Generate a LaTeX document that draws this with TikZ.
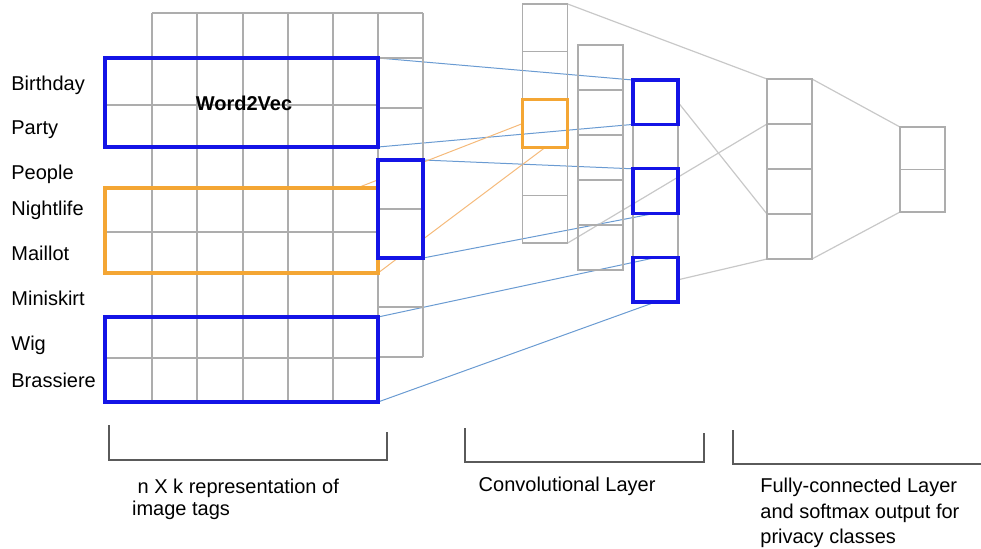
\documentclass[tikz,border=0pt]{standalone}
\usepackage{fontspec}
\setmainfont{Liberation Sans}
\usetikzlibrary{positioning,calc,backgrounds}

\definecolor{gridgray}{HTML}{ADADAD}
\definecolor{linkgray}{HTML}{C8C8C8}
\definecolor{tagblue}{HTML}{1414E6}
\definecolor{tagorange}{HTML}{F4A634}
\definecolor{thinblue}{HTML}{6A9BD2}
\definecolor{thinorange}{HTML}{F5BA7A}
\definecolor{bracketgray}{HTML}{5A5A5A}

\begin{document}
\begin{tikzpicture}[x=0.5pt,y=-0.5pt,font=\fontsize{10}{12}\selectfont,
    gridline/.style={draw=gridgray,line width=0.6pt},
    cell/.style={draw=gridgray,line width=0.6pt,minimum width=22.5pt,
      minimum height=#1,inner sep=0pt,outer sep=0pt},
    tagwindow/.style={draw=#1,line width=1.6pt,inner sep=0pt,outer sep=0pt},
    tagtext/.style={anchor=base west,inner sep=0pt},
    bluelink/.style={draw=thinblue,line width=0.5pt},
    orangelink/.style={draw=thinorange,line width=0.5pt},
    greylink/.style={draw=linkgray,line width=0.6pt},
    bracket/.style={draw=bracketgray,line width=0.65pt}]
    \useasboundingbox (0,0) rectangle (981,548);

    % n x k matrix of tag vectors
    \foreach \x in {152,197,243,288,333,378}
        \draw[gridline] (\x,13) -- (\x,402);
    \draw[gridline] (423,13) -- (423,357);
    \draw[gridline] (152,13) -- (423,13);
    \foreach \y in {58,105,147,188,232,273,317,358,402}
        \draw[gridline] (105,\y) -- (378,\y);
    \foreach \y in {58,108,160,207,258,307,357}
        \draw[gridline] (378,\y) -- (423,\y);

    \foreach \tag/\y [count=\i] in {Birthday/90,Party/134,People/179,Nightlife/215,
        Maillot/260,Miniskirt/305,Wig/350,Brassiere/387}
        \node[tagtext] (tag\i) at (11,\y) {\tag};

    \node[tagwindow=tagblue,minimum width=136.5pt,minimum height=44.5pt] (rowsA) at (241.5,102.5) {};
    \node[tagwindow=tagorange,minimum width=136.5pt,minimum height=42.5pt] (rowsB) at (241.5,230.5) {};
    \node[tagwindow=tagblue,minimum width=136.5pt,minimum height=42.5pt] (rowsC) at (241.5,359.5) {};
    \node[tagwindow=tagblue,fill=white,minimum width=22.5pt,minimum height=49pt,
        path picture={\draw[gridline] (path picture bounding box.west) -- (path picture bounding box.east);}]
        (emb) at (400.5,209) {};
    \node[anchor=base,inner sep=0pt,font=\fontsize{10}{12}\selectfont\bfseries] (w2v) at (244,110) {Word2Vec};
    \coordinate (rowsB-exit) at ($(rowsB.north east)+(-21,0)$);

    % convolutional layer
    \node[cell=23.9pt] (a1) at (545.2,27.9) {};
    \foreach \i [count=\j from 2] in {1,...,4}
        \node[cell=23.9pt,below=0pt of a\i] (a\j) {};
    \node[cell=22.5pt] (b1) at (600.5,67.5) {};
    \foreach \i [count=\j from 2] in {1,...,4}
        \node[cell=22.5pt,below=0pt of b\i] (b\j) {};
    \node[cell=22.2pt] (c1) at (655.5,102.2) {};
    \foreach \i [count=\j from 2] in {1,...,4}
        \node[cell=22.2pt,below=0pt of c\i] (c\j) {};
    \draw[tagorange,line width=1.6pt] (a3.north west) rectangle (a3.south east);
    \foreach \c in {c1,c3,c5}
        \draw[tagblue,line width=1.6pt] (\c.north west) rectangle (\c.south east);

    % fully-connected and softmax
    \node[cell=22.5pt] (d1) at (789.5,101.5) {};
    \foreach \i [count=\j from 2] in {1,...,3}
        \node[cell=22.5pt,below=0pt of d\i] (d\j) {};
    \node[cell=21.25pt] (e1) at (922.5,148.25) {};
    \node[cell=21.25pt,below=0pt of e1] (e2) {};

    \begin{scope}[on background layer]
        \path[bluelink] (rowsA.north east) edge (c1.north west)
                        (rowsA.south east) edge (c1.south west)
                        (emb.north east) edge (c3.north west)
                        (emb.south east) edge (c3.south)
                        (rowsC.north east) edge (c5.north)
                        (rowsC.south east) edge (c5.south);
        \path[orangelink] (rowsB-exit) edge (a3.west)
                          (rowsB.south east) edge (a3.south);
        \path[greylink] (a1.north east) edge (d1.north west)
                        (a5.south east) edge (d2.north west)
                        (c1.east) edge (d3.south west)
                        (c5.east) edge (d4.south west)
                        (d1.north east) edge (e1.north west)
                        (d4.south east) edge (e2.south west);
    \end{scope}

    % captions
    \draw[bracket] (109,425) -- (109,460) -- (387,460) -- (387,432);
    \draw[bracket] (465,428) -- (465,462) -- (704,462) -- (704,433);
    \draw[bracket] (733,430) -- (733,464) -- (981,464);
    \node[anchor=north west,align=left,inner sep=0pt,font=\fontsize{10}{10.85}\selectfont]
        (matrixcap) at (131.7,478.8) {\ n X k representation of\\image tags};
    \node[tagtext] (convcap) at (478.3,491.7) {Convolutional Layer};
    \node[anchor=north west,align=left,inner sep=0pt,font=\fontsize{10}{12.75}\selectfont]
        (fccap) at (760,477.8) {Fully-connected Layer\\and softmax output for\\privacy classes};
\end{tikzpicture}
\end{document}
